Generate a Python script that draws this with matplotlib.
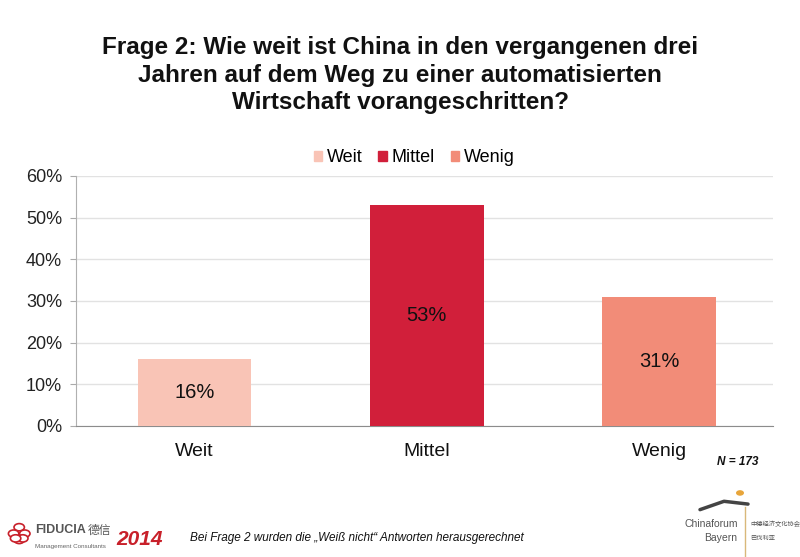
import matplotlib
matplotlib.use("Agg")
import matplotlib.pyplot as plt
from matplotlib.patches import Circle

categories = ["Weit", "Mittel", "Wenig"]
values = [16, 53, 31]
colors = ["#f9c4b6", "#d11f3a", "#f28c78"]
yticks = [0, 10, 20, 30, 40, 50, 60]
title = "Frage 2: Wie weit ist China in den vergangenen drei\nJahren auf dem Weg zu einer automatisierten\nWirtschaft vorangeschritten?"
footnote = "Bei Frage 2 wurden die \u201eWei\u00df nicht\u201c Antworten herausgerechnet"
n_label = "N = 173"

plt.rcParams['font.family'] = ['Liberation Sans', 'DejaVu Sans']

fig = plt.figure(figsize=(8, 5.57), dpi=100)
ax = fig.add_axes([0.095, 0.2352, 0.871, 0.449])

x = range(len(categories))
bars = ax.bar(x, values, width=0.49, color=colors, zorder=3, label=None)
for xi, v in zip(x, values):
    ax.text(xi, v / 2, f"{v}%", ha="center", va="center", fontsize=14.5, color="#111111", zorder=4)

ax.set_xlim(-0.51, 2.49)
ax.set_ylim(0, 60)
ax.set_yticks(yticks)
ax.set_yticklabels([f"{t}%" for t in yticks], fontsize=13, color="#222222")
ax.set_xticks(list(x))
ax.set_xticklabels(categories, fontsize=14, color="#111111")
ax.tick_params(axis="x", length=0, pad=12)
ax.tick_params(axis="y", length=4, color="#aaaaaa", pad=6, direction="out")
ax.yaxis.grid(True, color="#e2e2e2", linewidth=1, zorder=0)
for s in ["top", "right"]:
    ax.spines[s].set_visible(False)
ax.spines["left"].set_color("#b0b0b0")
ax.spines["bottom"].set_color("#8c8c8c")

handles = [plt.Rectangle((0, 0), 1, 1, color=c) for c in colors]
leg = fig.legend(handles, categories, loc="center", bbox_to_anchor=(0.518, 0.717), ncol=3,
                 frameon=False, fontsize=13, handlelength=0.45, handleheight=0.45,
                 handletextpad=0.3, columnspacing=0.85)

fig.text(0.5, 0.865, title, ha="center", va="center", fontsize=17.5, fontweight="bold",
         color="#111111", linespacing=1.25)

fig.text(0.922, 0.17, n_label, ha="center", va="center", fontsize=8.5, style="italic",
         fontweight="bold", color="#111111")
fig.text(0.2375, 0.035, footnote, ha="left", va="center", fontsize=8.5, style="italic", color="#111111")

# FIDUCIA logo approximation
fig.text(0.044, 0.048, "FIDUCIA", ha="left", va="center", fontsize=9, fontweight="bold", color="#555555")
fig.text(0.11, 0.048, "德信", ha="left", va="center", fontsize=8.5, color="#555555",
         family=["Noto Sans CJK SC", "DejaVu Sans"])
fig.text(0.044, 0.018, "Management Consultants", ha="left", va="center", fontsize=4.5, color="#666666")
fig.text(0.146, 0.032, "2014", ha="left", va="center", fontsize=15, style="italic", fontweight="bold",
         color="#c8202a")
for dx, dy in [(0, 0.008), (0.007, 0.0), (-0.007, 0.0), (0, -0.008), (0.0045, -0.006), (-0.0045, -0.006)]:
    fig.patches.append(Circle((0.024 + dx, 0.042 + dy * 1.43), 0.0065, transform=fig.transFigure,
                              facecolor="white", edgecolor="#c8202a", linewidth=1.2))

# Chinaforum Bayern logo approximation
fig.text(0.922, 0.06, "Chinaforum", ha="right", va="center", fontsize=7.5, color="#555555")
fig.text(0.922, 0.035, "Bayern", ha="right", va="center", fontsize=7.5, color="#555555")
fig.text(0.938, 0.06, "中德经济文化协会", ha="left", va="center", fontsize=4.5, color="#555555",
         family=["Noto Sans CJK SC", "DejaVu Sans"])
fig.text(0.938, 0.035, "巴伐利亚", ha="left", va="center", fontsize=4.5, color="#555555",
         family=["Noto Sans CJK SC", "DejaVu Sans"])
fig.lines.append(plt.Line2D([0.931, 0.931], [0.0, 0.09], transform=fig.transFigure, color="#d9b87a", linewidth=1))
fig.lines.append(plt.Line2D([0.875, 0.905, 0.935], [0.085, 0.1, 0.095], transform=fig.transFigure,
                            color="#444444", linewidth=2.5, solid_capstyle="round"))
fig.patches.append(Circle((0.925, 0.115), 0.005, transform=fig.transFigure, facecolor="#e8a53a", edgecolor="none"))

fig.savefig("out.png", dpi=100)
